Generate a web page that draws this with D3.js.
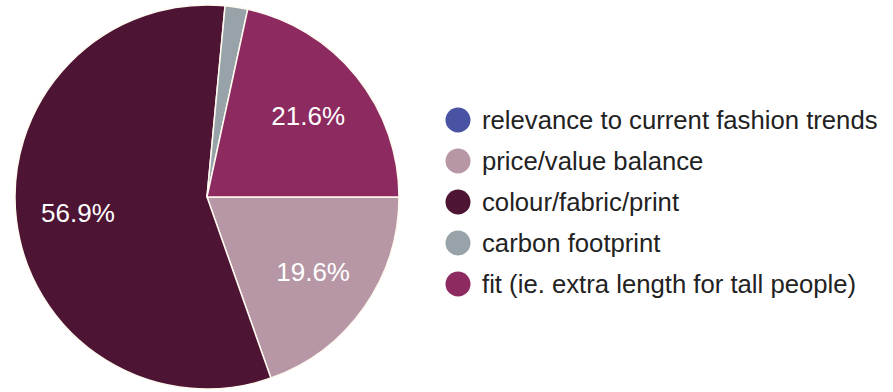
<!DOCTYPE html>
<html>
<head>
<meta charset="utf-8">
<script src="https://cdn.jsdelivr.net/npm/d3@7"></script>
<style>
  body { margin: 0; background: #fff; }
  svg { display: block; font-family: "Liberation Sans", Arial, sans-serif; }
</style>
</head>
<body>
<svg id="chart"></svg>
<script>
var WIDTH = 893;
var HEIGHT = 392;

// answers in legend order, share of responses (%)
var categories = [
  "relevance to current fashion trends",
  "price/value balance",
  "colour/fabric/print",
  "carbon footprint",
  "fit (ie. extra length for tall people)"
];
var shares = [0, 19.6, 56.9, 1.9, 21.6];
var colours = ["#4a52a4", "#b797a6", "#4d1433", "#97a3a9", "#8d2b60"];

var cx = 207, cy = 197, radius = 192;

var svg = d3.select("#chart").attr("width", WIDTH).attr("height", HEIGHT);

// pie starts at 3 o'clock and goes clockwise, keeping the legend order
var pie = d3.pie()
  .sort(null)
  .startAngle(Math.PI / 2)
  .endAngle(Math.PI / 2 + 2 * Math.PI)
  .value(function (d) { return d.value; });

var data = categories.map(function (c, i) {
  return { name: c, value: shares[i], colour: colours[i] };
});

var arc = d3.arc().innerRadius(0).outerRadius(radius);
var labelArc = d3.arc().innerRadius(130).outerRadius(130);

var g = svg.append("g").attr("transform", "translate(" + cx + "," + cy + ")");

g.selectAll("path")
  .data(pie(data))
  .enter()
  .append("path")
  .attr("d", arc)
  .style("fill", function (d) { return d.data.colour; })
  .style("stroke", "#fffaf0")
  .style("stroke-width", "1.5px");

//percent labels only on the bigger slices
g.selectAll("text")
  .data(pie(data).filter(function (d) { return d.data.value > 5; }))
  .enter()
  .append("text")
  .attr("transform", function (d) { return "translate(" + labelArc.centroid(d) + ")"; })
  .attr("text-anchor", "middle")
  .attr("dy", "0.35em")
  .style("fill", "#ffffff")
  .style("font-size", "26px")
  .text(function (d) { return d.data.value.toFixed(1) + "%"; });

// legend
var legend = svg.append("g").attr("transform", "translate(458,120)");
var rows = legend.selectAll("g")
  .data(data)
  .enter()
  .append("g")
  .attr("transform", function (d, i) { return "translate(0," + (i * 41) + ")"; });

rows.append("circle")
  .attr("r", 12.5)
  .style("fill", function (d) { return d.colour; });

rows.append("text")
  .attr("x", 24)
  .attr("dy", "0.35em")
  .style("fill", "#222222")
  .style("font-size", "25.7px")
  .text(function (d) { return d.name; });
</script>
</body>
</html>
